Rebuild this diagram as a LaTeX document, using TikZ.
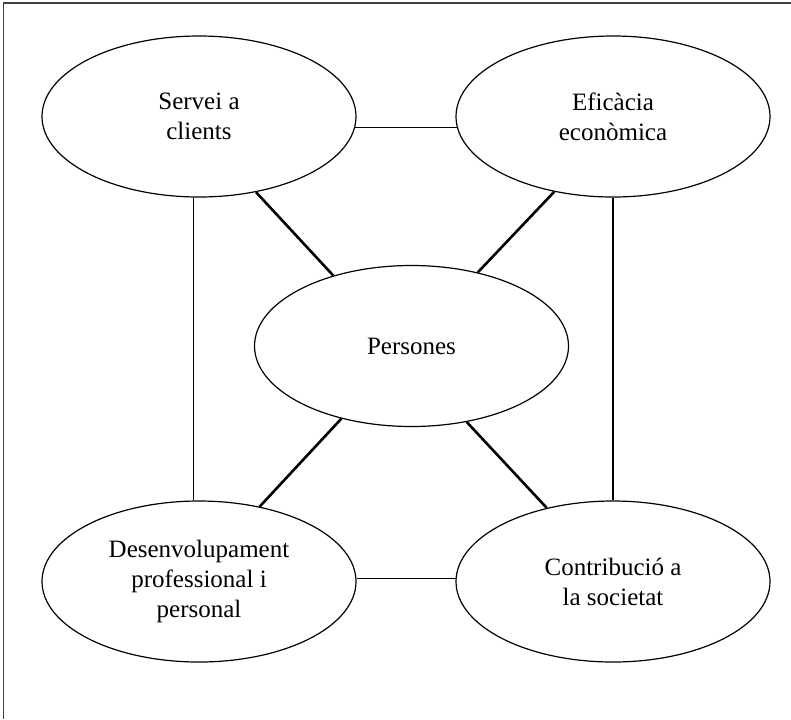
\documentclass[tikz,border=0pt]{standalone}
\usepackage{fontspec}
\setmainfont{Liberation Serif}
\usepackage{tikz}
\tikzstyle{el} = [ellipse, draw, line width=0.6pt, inner sep=0pt, minimum width=157pt, minimum height=80.5pt, align=center]
\tikzstyle{ln} = [draw, line width=0.55pt, black, -]
\tikzstyle{sp} = [draw, line width=1.3pt, black, -]
\usetikzlibrary{positioning,shapes.geometric}

\begin{document}
\begin{tikzpicture}[x=0.5pt, y=-0.5pt, node distance=232.5pt and 207pt, on grid]
  \tikzstyle{every node}=[font=\fontsize{12.5pt}{15pt}\selectfont]
  \useasboundingbox (0,0) rectangle (791,719);
  \draw[line width=0.7pt, black!75] (3.5,719) |- (791,3);

  \node[el] (pers) at (411.5,346) {Persones};
  \node[el] (serv) at (199,116.5) {Servei a\\clients};
  \node[el] (efic) [right=of serv] {Eficàcia\\econòmica};
  \node[el] (desv) [below=of serv] {Desenvolupament\\professional i\\personal};
  \node[el] (contr) [below=of efic] {Contribució a\\la societat};

  \draw[ln] (serv.-4) -- (efic.184);
  \draw[ln] (desv.1) -- (contr.179);
  \draw[ln] (serv.-94) -- (desv.94);
  \draw[ln] (efic.south) -- (contr.north);
  \draw[sp] (serv.-53) -- (pers.138);
  \draw[sp] (efic.-128) -- (pers.48);
  \draw[sp] (pers.226) -- (desv.51);
  \draw[sp] (pers.-54) -- (contr.132);
\end{tikzpicture}
\end{document}
